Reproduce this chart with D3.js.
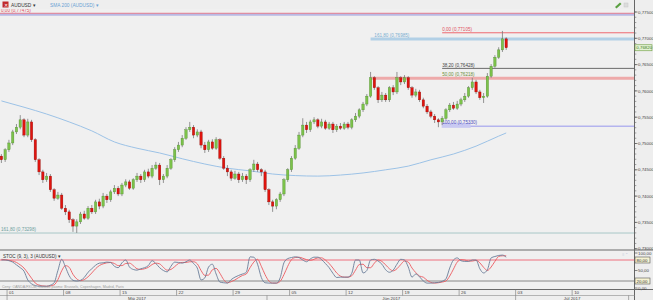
<!DOCTYPE html>
<html><head><meta charset="utf-8">
<script src="https://cdn.jsdelivr.net/npm/d3@7"></script>
<style>
html,body{margin:0;padding:0;background:#eeeeee;}
svg{display:block;font-family:"Liberation Sans",Arial,sans-serif;}
</style></head><body>
<svg id="c" width="653" height="300"></svg>
<script>
// ---------- DATA ----------
const openP=[.7476,.7469,.7488,.7501,.7522,.7531,.7545,.7516,.7541,.7507,
.7469,.7446,.7431,.7438,.7412,.7396,.7402,.7377,.7370,.7355,
.7343,.7351,.7366,.7358,.7377,.7370,.7389,.7381,.7400,.7393,
.7408,.7415,.7404,.7421,.7427,.7415,.7431,.7438,.7431,.7446,
.7438,.7453,.7459,.7431,.7438,.7453,.7469,.7488,.7497,.7510,
.7526,.7531,.7516,.7522,.7497,.7488,.7503,.7491,.7507,.7472,
.7453,.7446,.7434,.7442,.7431,.7438,.7431,.7450,.7461,.7450,
.7446,.7412,.7389,.7381,.7393,.7404,.7431,.7450,.7472,.7491,
.7516,.7535,.7526,.7541,.7545,.7533,.7541,.7529,.7537,.7526,
.7533,.7529,.7537,.7531,.7545,.7552,.7564,.7575,.7590,.7625,
.7606,.7583,.7592,.7583,.7606,.7598,.7625,.7617,.7625,.7606,
.7592,.7598,.7583,.7571,.7560,.7552,.7545,.7541,.7548,.7564,
.7573,.7567,.7575,.7583,.7590,.7606,.7617,.7598,.7587,.7590,
.7628,.7647,.7664,.7678,.7699];
const highP=[.7480,.7491,.7507,.7526,.7537,.7554,.7548,.7547,.7545,.7510,
.7472,.7450,.7444,.7442,.7415,.7408,.7406,.7383,.7374,.7358,
.7356,.7370,.7372,.7381,.7383,.7393,.7395,.7406,.7404,.7412,
.7421,.7419,.7425,.7432,.7431,.7434,.7444,.7442,.7450,.7452,
.7459,.7465,.7463,.7442,.7459,.7472,.7493,.7503,.7516,.7531,
.7541,.7535,.7527,.7526,.7503,.7507,.7508,.7512,.7510,.7476,
.7459,.7450,.7448,.7446,.7444,.7442,.7453,.7469,.7465,.7453,
.7450,.7415,.7393,.7396,.7408,.7434,.7453,.7476,.7497,.7522,
.7548,.7541,.7545,.7550,.7548,.7547,.7545,.7541,.7541,.7537,
.7539,.7541,.7541,.7548,.7558,.7567,.7579,.7594,.7636,.7628,
.7609,.7598,.7596,.7609,.7611,.7636,.7628,.7630,.7628,.7609,
.7604,.7602,.7587,.7575,.7564,.7556,.7548,.7552,.7567,.7577,
.7579,.7581,.7587,.7596,.7609,.7625,.7621,.7602,.7596,.7634,
.7651,.7668,.7683,.7714,.7702];
const lowP=[.7463,.7465,.7484,.7497,.7518,.7527,.7512,.7512,.7503,.7465,
.7440,.7425,.7427,.7408,.7391,.7393,.7374,.7364,.7349,.7332,
.7330,.7347,.7355,.7355,.7366,.7366,.7375,.7377,.7387,.7389,
.7404,.7400,.7400,.7417,.7412,.7412,.7427,.7425,.7427,.7434,
.7434,.7450,.7421,.7425,.7434,.7450,.7465,.7484,.7493,.7507,
.7522,.7510,.7512,.7491,.7482,.7484,.7488,.7488,.7469,.7450,
.7438,.7429,.7431,.7425,.7427,.7423,.7427,.7446,.7446,.7438,
.7408,.7383,.7370,.7375,.7389,.7400,.7427,.7446,.7469,.7488,
.7512,.7520,.7522,.7537,.7529,.7529,.7526,.7526,.7520,.7522,
.7526,.7526,.7527,.7527,.7541,.7548,.7560,.7571,.7587,.7602,
.7577,.7579,.7579,.7579,.7592,.7594,.7611,.7613,.7602,.7587,
.7588,.7579,.7567,.7556,.7548,.7539,.7531,.7535,.7545,.7560,
.7564,.7564,.7571,.7579,.7587,.7602,.7594,.7583,.7577,.7587,
.7625,.7644,.7661,.7674,.7678];
const closeP=[.7469,.7488,.7501,.7522,.7531,.7545,.7516,.7541,.7507,.7469,
.7446,.7431,.7438,.7412,.7396,.7402,.7377,.7370,.7355,.7343,
.7351,.7366,.7358,.7377,.7370,.7389,.7381,.7400,.7393,.7408,
.7415,.7404,.7421,.7427,.7415,.7431,.7438,.7431,.7446,.7438,
.7453,.7459,.7431,.7438,.7453,.7469,.7488,.7497,.7510,.7526,
.7531,.7516,.7522,.7497,.7488,.7503,.7491,.7507,.7472,.7453,
.7446,.7434,.7442,.7431,.7438,.7431,.7450,.7461,.7450,.7446,
.7412,.7389,.7381,.7393,.7404,.7431,.7450,.7472,.7491,.7516,
.7535,.7526,.7541,.7545,.7533,.7541,.7529,.7537,.7526,.7533,
.7529,.7537,.7531,.7545,.7552,.7564,.7575,.7590,.7625,.7606,
.7583,.7592,.7583,.7606,.7598,.7625,.7617,.7625,.7606,.7592,
.7598,.7583,.7571,.7560,.7552,.7545,.7541,.7548,.7564,.7573,
.7567,.7575,.7583,.7590,.7606,.7617,.7598,.7587,.7590,.7628,
.7647,.7664,.7678,.7699,.7682];

const smaBar=[0,6,12,18,24,30,36,42,48,54,60,66,72,78,84,90,96,102,108,114,120,126,132,134];
const sma200=[.7581,.7569,.7556,.7541,.7524,.7503,.7491,.7482,.7471,.7461,.7453,.7448,.7442,.7439,.7438,.7440,.7444,.7450,.7457,.7469,.7480,.7495,.7514,.7520];

const stochK=[80,80,78,74,66,58,48,23,12,7,5,5,5,8,15,50,82,60,35,22,
20,22,30,45,55,65,71,72,74,73,62,58,72,80,60,53,51,55,58,64,
78,70,58,50,46,62,74,73,71,75,80,70,57,23,29,60,68,40,17,15,
14,24,31,36,40,45,89,88,68,30,15,14,14,14,29,72,84,87,89,87,
80,75,83,88,88,81,70,58,42,30,31,31,31,42,80,80,43,50,80,82,
77,68,52,45,51,68,82,80,60,31,40,32,20,14,14,15,16,19,26,57,
80,86,78,76,76,80,80,55,43,52,86,90,93,94,88];
const stochD=[82,81,79,77,73,66,57,43,28,14,8,6,5,6,9,24,49,64,59,39,
26,21,24,32,43,55,64,69,72,73,70,64,64,70,71,64,55,53,55,59,
67,71,69,59,51,53,61,70,73,73,75,75,69,50,36,37,52,56,42,24,
15,18,23,30,36,40,58,74,82,62,38,20,14,14,19,38,62,81,87,88,
85,81,79,82,86,86,80,70,57,43,34,31,31,35,51,67,68,58,58,71,
80,76,66,55,49,55,67,77,74,57,44,34,31,22,16,14,15,17,20,34,
54,74,81,80,77,77,79,72,59,50,60,76,90,92,92];

const priceTicks=[0.775,0.770,0.765,0.760,0.755,0.750,0.745,0.740,0.735,0.730];
const stochTicks=[100,50,0];
const stochLevels=[80,20];
const weekLabels=["01","08","15","22","29","05","12","19","26","03","10"];
const weekDay=[0,5,10,15,20,25,30,35,40,45,50];
const monthLabels=["Máj 2017","Jún 2017","Júl 2017"];
const monthStartDay=[0,23,45];
const monthEndDay=[23,45,55];

// fibonacci / level lines: price, label, start bar
const levelPrice=[0.77475,0.7745,0.77105,0.76985,0.76428,0.7624,0.75330,0.73298];
const levelLabel=["0,00 (0,77475)","","0,00 (0,77105)","161,80 (0,76985)","38,20 (0,76428)","50,00 (0,76218)","100,00 (0,75330)","161,80 (0,73298)"];
const levelStartBar=[-1,-1,117,98,117,98,117,-1];
const levelColor=["#e86878","#b9b9e4","#ee6a70","#b2d0e6","#6a6a6a","#eeaaaa","#b4b4ee","#a9c7c7"];
const levelWidth=[1,2,1,3,1,3,1.5,1];
const levelText=["#e05060","","#e05060","#7aaed0","#444444","#6f8f3a","#5050c0","#6f9f9f"];
const levelLabelBar=[-1,-1,117,99,117,117,117,-1];

// ---------- DRAW ----------
const svg=d3.select("#c");
const W=653, axisX=634.5;
const nB=closeP.length;
const x=d3.scaleLinear().domain([0,134]).range([1.4,506.2]);
const dayX=d=>x(d*3+1.5);
const y=d3.scaleLinear().domain([0.73,0.775]).range([248.7,12]);
const ys=d3.scaleLinear().domain([0,100]).range([288,253]);

// backgrounds
svg.append("rect").attr("x",0).attr("y",0).attr("width",W).attr("height",300).attr("fill","#eeeeee");
svg.append("rect").attr("x",0).attr("y",9).attr("width",axisX).attr("height",241).attr("fill","#f0f0f0");
svg.append("rect").attr("x",0).attr("y",250).attr("width",axisX).attr("height",39).attr("fill","#f0f0f0");

// clip for main
svg.append("clipPath").attr("id","cm").append("rect").attr("x",0).attr("y",9).attr("width",axisX).attr("height",240.5);
const gm=svg.append("g").attr("clip-path","url(#cm)");

// level lines
levelPrice.forEach((p,k)=>{
  const x0=levelStartBar[k]<0?0:x(levelStartBar[k]);
  gm.append("line").attr("x1",x0).attr("x2",axisX).attr("y1",y(p)).attr("y2",y(p))
    .attr("stroke",levelColor[k]).attr("stroke-width",levelWidth[k]);
});
levelPrice.forEach((p,k)=>{
  if(!levelLabel[k])return;
  const x0=levelLabelBar[k]<0?1:x(levelLabelBar[k]);
  if(k===6){
    gm.append("rect").attr("x",x0-0.5).attr("y",y(p)-3.3).attr("width",29).attr("height",5).attr("fill","#c9c9f2");
  }
  gm.append("text").attr("x",x0).attr("y",y(p)-1.8).attr("font-size",4.6).attr("fill",levelText[k]).text(levelLabel[k]);
});

// SMA 200
gm.append("path").datum(smaBar.map((b,k)=>[x(b),y(sma200[k])]))
  .attr("d",d3.line().curve(d3.curveMonotoneX)).attr("fill","none").attr("stroke","#9cc2e6").attr("stroke-width",1);

// candles
const idx=d3.range(nB);
gm.selectAll("line.w").data(idx).join("line").attr("class","w")
  .attr("x1",i=>x(i)).attr("x2",i=>x(i)).attr("y1",i=>y(highP[i])).attr("y2",i=>y(lowP[i]))
  .attr("stroke","#7a7a7a").attr("stroke-width",0.8);
gm.selectAll("rect.b").data(idx).join("rect").attr("class","b")
  .attr("x",i=>x(i)-1.2).attr("width",2.4)
  .attr("y",i=>y(Math.max(openP[i],closeP[i])))
  .attr("height",i=>Math.max(0.8,Math.abs(y(openP[i])-y(closeP[i]))))
  .attr("fill",i=>closeP[i]>=openP[i]?"#7cc24a":"#e0140e")
  .attr("stroke",i=>closeP[i]>=openP[i]?"#4e8a2e":"#8c0a06").attr("stroke-width",0.35);

// header legend
svg.append("rect").attr("x",2.5).attr("y",1.5).attr("width",6).attr("height",6).attr("fill","#c0282a");
svg.append("text").attr("x",3.6).attr("y",6.6).attr("font-size",5).attr("fill","#fff").text("✕");
svg.append("text").attr("x",11).attr("y",6.6).attr("font-size",4.8).attr("fill","#333").text("AUDUSD  ▾");
svg.append("text").attr("x",50).attr("y",6.6).attr("font-size",4.8).attr("fill","#6aa2d4").text("SMA 200 (AUDUSD)  ▾");
svg.append("path").attr("d","M615,7 L620,2.5 L621.5,4 L616.5,8.5 Z").attr("fill","#5aa040");
svg.append("rect").attr("x",624).attr("y",3).attr("width",4).attr("height",4).attr("fill","#dcdcdc").attr("stroke","#c8c8c8").attr("stroke-width",0.5);

// price axis
svg.append("line").attr("x1",axisX).attr("x2",axisX).attr("y1",0).attr("y2",300).attr("stroke","#666").attr("stroke-width",1);
const minor=d3.range(0.730,0.7755,0.001);
svg.selectAll("line.mt").data(minor).join("line").attr("class","mt")
  .attr("x1",axisX).attr("x2",axisX+1.8).attr("y1",d=>y(d)).attr("y2",d=>y(d)).attr("stroke","#666").attr("stroke-width",0.6);
svg.selectAll("line.Mt").data(priceTicks).join("line").attr("class","Mt")
  .attr("x1",axisX).attr("x2",axisX+3).attr("y1",d=>y(d)).attr("y2",d=>y(d)).attr("stroke","#555").attr("stroke-width",0.7);
svg.selectAll("text.pt").data(priceTicks).join("text").attr("class","pt")
  .attr("x",axisX+3.5).attr("y",d=>y(d)+1.6).attr("font-size",4.4).attr("fill","#444")
  .text(d=>d.toFixed(5).replace(".",","));
// current price box
const lc=closeP[nB-1];
svg.append("rect").attr("x",axisX+0.5).attr("y",y(lc)-3).attr("width",17).attr("height",6).attr("fill","#e3f2d4").attr("stroke","#6a9c3c").attr("stroke-width",0.6);
svg.append("text").attr("x",axisX+1.8).attr("y",y(lc)+1.6).attr("font-size",4.4).attr("fill","#3c7a1c").text(lc.toFixed(5).replace(".",","));

// panel dividers
svg.append("line").attr("x1",0).attr("x2",W).attr("y1",250).attr("y2",250).attr("stroke","#6a6a6a").attr("stroke-width",1.2);
svg.append("line").attr("x1",0).attr("x2",W).attr("y1",289.5).attr("y2",289.5).attr("stroke","#6a6a6a").attr("stroke-width",1);

// stochastic panel
const gs=svg.append("g");
gs.append("line").attr("x1",0).attr("x2",axisX).attr("y1",ys(80)).attr("y2",ys(80)).attr("stroke","#ee6070").attr("stroke-width",0.9);
gs.append("line").attr("x1",0).attr("x2",axisX).attr("y1",ys(20)).attr("y2",ys(20)).attr("stroke","#7a7a7a").attr("stroke-width",0.9);
gs.append("path").datum(stochD).attr("d",d3.line().x((d,i)=>x(i)).y(d=>ys(d)).curve(d3.curveMonotoneX))
  .attr("fill","none").attr("stroke","#ec5a60").attr("stroke-width",0.9);
gs.append("path").datum(stochK).attr("d",d3.line().x((d,i)=>x(i)).y(d=>ys(d)).curve(d3.curveMonotoneX))
  .attr("fill","none").attr("stroke","#6a7d98").attr("stroke-width",0.9);
gs.append("text").attr("x",3).attr("y",257.5).attr("font-size",4.6).attr("fill","#333").text("STOC (9, 3), 3 (AUDUSD)  ▾");
gs.selectAll("text.st").data(stochTicks).join("text").attr("class","st")
  .attr("x",axisX+3.5).attr("y",d=>ys(d)+1.6).attr("font-size",4.4).attr("fill","#444").text(d=>d.toFixed(2).replace(".",","));
gs.selectAll("line.stt").data(stochTicks).join("line").attr("class","stt")
  .attr("x1",axisX).attr("x2",axisX+3).attr("y1",d=>ys(d)).attr("y2",d=>ys(d)).attr("stroke","#555").attr("stroke-width",0.7);
stochLevels.forEach(v=>{
  gs.append("rect").attr("x",axisX+0.5).attr("y",ys(v)-3).attr("width",15).attr("height",6).attr("fill","#f6f2d2").attr("stroke","#555").attr("stroke-width",0.6);
  gs.append("text").attr("x",axisX+2).attr("y",ys(v)+1.6).attr("font-size",4.4).attr("fill","#333").text(v.toFixed(2).replace(".",","));
});
gs.append("text").attr("x",622).attr("y",256).attr("font-size",4).attr("fill","#b8c4d8").text("≡ ⌃");
svg.append("text").attr("x",2).attr("y",288).attr("font-size",3.6).attr("fill","#9a9a9a")
  .text("Ceny: OANDA/FXCM, Časové pásmo: Brussels, Copenhagen, Madrid, Paris");

// time axis
svg.append("line").attr("x1",0).attr("x2",axisX).attr("y1",295.5).attr("y2",295.5).attr("stroke","#9a9a9a").attr("stroke-width",0.7);
weekDay.forEach((d,k)=>{
  const xx=dayX(d);
  svg.append("line").attr("x1",xx).attr("x2",xx).attr("y1",289.5).attr("y2",295.5).attr("stroke","#777").attr("stroke-width",0.6);
  svg.append("text").attr("x",xx+2).attr("y",294).attr("font-size",4.4).attr("fill","#444").text(weekLabels[k]);
});
monthLabels.forEach((m,k)=>{
  const x0=dayX(monthStartDay[k]), x1=dayX(monthEndDay[k]);
  svg.append("line").attr("x1",x1).attr("x2",x1).attr("y1",295.5).attr("y2",300).attr("stroke","#777").attr("stroke-width",0.6);
  if(k===0) svg.append("line").attr("x1",x0).attr("x2",x0).attr("y1",295.5).attr("y2",300).attr("stroke","#777").attr("stroke-width",0.6);
  svg.append("text").attr("x",(x0+x1)/2).attr("y",299.5).attr("text-anchor","middle").attr("font-size",4.4).attr("fill","#444").text(m);
});
</script>
</body></html>
